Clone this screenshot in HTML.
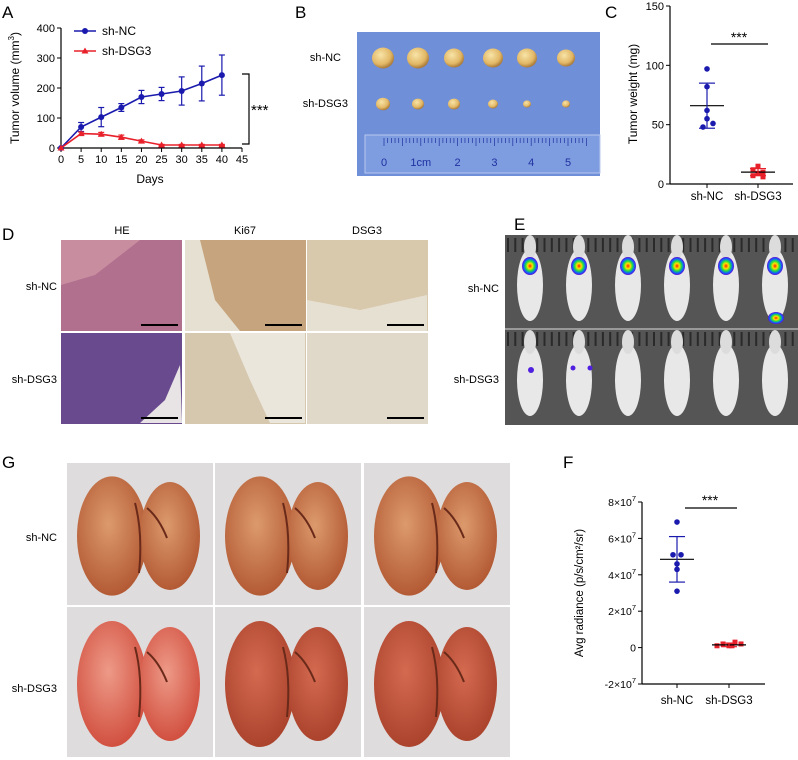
<!DOCTYPE html>
<html><head><meta charset="utf-8">
<style>
body{margin:0;background:#fff;}
svg{display:block;font-family:"Liberation Sans",Arial,sans-serif;}
</style></head>
<body>
<svg id="fig" width="798" height="760" viewBox="0 0 798 760">
<defs>
<radialGradient id="tum" cx="40%" cy="35%" r="65%"><stop offset="0" stop-color="#f7e4a8"/><stop offset="0.7" stop-color="#e2b765"/><stop offset="1" stop-color="#a97a3a"/></radialGradient>
<radialGradient id="lungA" cx="45%" cy="40%" r="65%"><stop offset="0" stop-color="#dc9a6c"/><stop offset="1" stop-color="#b05530"/></radialGradient>
<radialGradient id="lungB" cx="45%" cy="40%" r="65%"><stop offset="0" stop-color="#ee9a88"/><stop offset="1" stop-color="#cf4a3a"/></radialGradient>
<radialGradient id="lungC" cx="45%" cy="40%" r="65%"><stop offset="0" stop-color="#d46a50"/><stop offset="1" stop-color="#a8402a"/></radialGradient>
<radialGradient id="sig" cx="50%" cy="50%" r="50%"><stop offset="0" stop-color="#ff2000"/><stop offset="0.3" stop-color="#ffe000"/><stop offset="0.55" stop-color="#20e040"/><stop offset="0.8" stop-color="#1060ff"/><stop offset="1" stop-color="#6010d0"/></radialGradient>
</defs>

<text x="2" y="18" font-size="17">A</text>
<text x="295" y="18" font-size="17">B</text>
<text x="605" y="18" font-size="17">C</text>
<text x="2" y="240" font-size="17">D</text>
<text x="514" y="230" font-size="17">E</text>
<text x="2" y="468" font-size="17">G</text>
<text x="563" y="468" font-size="17">F</text>

<g id="chartA"></g>
<g id="panelB"></g>
<g id="chartC"></g>
<g id="panelD"></g>
<g id="panelE"></g>
<g id="panelG"></g>
<g id="chartF"></g>
</svg>
<script>
// ---- Chart A data ----
const daysA = [0,5,10,15,20,25,30,35,40];
const ncMean = [0,70,103,135,170,180,190,215,243];
const ncErr = [0,15,32,13,22,22,47,58,67];
const dsgMean = [0,48,46,36,23,10,10,10,10];
const dsgErr = [0,5,6,7,4,2,2,2,2];
const xTicksA = [0,5,10,15,20,25,30,35,40,45];
const yTicksA = [0,100,200,300,400];
// ---- Chart C data ----
const groupsC = ["sh-NC","sh-DSG3"];
const ncWeights = [97,82,62,55,51,48];
const dsgWeights = [15,12,10,9,7,6];
const cMeanSd = [[66,19],[10,3]];
const yTicksC = [0,50,100,150];
// ---- Chart F data ----
const groupsF = ["sh-NC","sh-DSG3"];
const ncRad = [6.9e7,5.1e7,5.1e7,4.6e7,4.3e7,3.1e7];
const dsgRad = [0.1e7,0.2e7,0.1e7,0.3e7,0.2e7,0.1e7];
const fMeanSd = [[4.85e7,1.25e7],[0.15e7,0.1e7]];
const yTicksF = [-2e7,0,2e7,4e7,6e7,8e7];

const NS="http://www.w3.org/2000/svg";
function mk(parent,tag,attrs,text){const e=document.createElementNS(NS,tag);for(const k in attrs)e.setAttribute(k,attrs[k]);if(text!==undefined)e.textContent=text;parent.appendChild(e);return e;}

// ===== Chart A =====
(function(){
const g=document.getElementById('chartA');
const x0=61,x1=242,y0=148,y1=28;
const xs=d=>x0+(d/45)*(x1-x0), ys=v=>y0-(v/400)*(y0-y1);
let a=mk(g,'line',{x1:x0,y1:y0,x2:x1,y2:y0,stroke:'#000','stroke-width':1.2});

a=mk(g,'line',{x1:x0,y1:y0,x2:x0,y2:y1,stroke:'#000','stroke-width':1.2});

xTicksA.forEach(t=>{mk(g,'line',{x1:xs(t),y1:y0,x2:xs(t),y2:y0+4,stroke:'#000'});
 const tx=mk(g,'text',{x:xs(t),y:y0+15,'font-size':11,'text-anchor':'middle'},t);
 });
yTicksA.forEach(t=>{mk(g,'line',{x1:x0-4,y1:ys(t),x2:x0,y2:ys(t),stroke:'#000'});
 const tx=mk(g,'text',{x:x0-6,y:ys(t)+4,'font-size':11,'text-anchor':'end'},t);
 });
let t=mk(g,'text',{x:150,y:183,'font-size':12,'text-anchor':'middle'},'Days');

t=mk(g,'text',{x:0,y:0,'font-size':12,'text-anchor':'middle',transform:'translate(19,88) rotate(-90)'});
t.innerHTML='Tumor volume (mm<tspan font-size="8" dy="-5">3</tspan><tspan dy="5">)</tspan>';

function series(mean,err,col,shape,name){
 const pts=daysA.map((d,i)=>xs(d)+','+ys(mean[i])).join(' ');
 const l=mk(g,'polyline',{points:pts,fill:'none',stroke:col,'stroke-width':1.6});
 
 daysA.forEach((d,i)=>{const cx=xs(d),cy=ys(mean[i]);
  if(err[i]>0){mk(g,'line',{x1:cx,y1:ys(mean[i]+err[i]),x2:cx,y2:ys(mean[i]-err[i]),stroke:col,'stroke-width':1.2});
   mk(g,'line',{x1:cx-3,y1:ys(mean[i]+err[i]),x2:cx+3,y2:ys(mean[i]+err[i]),stroke:col,'stroke-width':1.2});
   mk(g,'line',{x1:cx-3,y1:ys(mean[i]-err[i]),x2:cx+3,y2:ys(mean[i]-err[i]),stroke:col,'stroke-width':1.2});}
  let p;
  if(shape==='c')p=mk(g,'circle',{cx:cx,cy:cy,r:3,fill:col});
  else p=mk(g,'polygon',{points:`${cx},${cy-3.5} ${cx-3.5},${cy+2.5} ${cx+3.5},${cy+2.5}`,fill:col});
  });
}
series(ncMean,ncErr,'#1a1aae','c','sh-nc');
series(dsgMean,dsgErr,'#e8202a','t','sh-dsg3');
mk(g,'line',{x1:74,y1:31,x2:96,y2:31,stroke:'#1a1aae','stroke-width':1.6});mk(g,'circle',{cx:85,cy:31,r:3,fill:'#1a1aae'});
t=mk(g,'text',{x:102,y:35,'font-size':12},'sh-NC');
mk(g,'line',{x1:74,y1:51,x2:96,y2:51,stroke:'#e8202a','stroke-width':1.6});mk(g,'polygon',{points:'85,47.5 81.5,53.5 88.5,53.5',fill:'#e8202a'});
t=mk(g,'text',{x:102,y:55,'font-size':12},'sh-DSG3');
mk(g,'polyline',{points:'242,74 249,74 249,144 242,144',fill:'none',stroke:'#000','stroke-width':1.2});
t=mk(g,'text',{x:251,y:115,'font-size':15},'***');
})();

// ===== Panel B photo =====
(function(){
const g=document.getElementById('panelB');
let t=mk(g,'text',{x:341,y:61,'font-size':11,'text-anchor':'end'},'sh-NC');
t=mk(g,'text',{x:348,y:107,'font-size':11,'text-anchor':'end'},'sh-DSG3');
mk(g,'rect',{x:357,y:32,width:243,height:144,fill:'#6f8fd8'});
mk(g,'rect',{x:365,y:135,width:235,height:38,fill:'#7e9de0',stroke:'#b8c8ee','stroke-width':1});
const xsB=[383,418,454,493,527,566], big=[11,11,10,10,10,9], small=[7,6,6,5,4,4];
xsB.forEach((x,i)=>{mk(g,'ellipse',{cx:x,cy:58,rx:big[i],ry:big[i]*0.95,fill:'url(#tum)'});mk(g,'ellipse',{cx:x,cy:104,rx:small[i],ry:small[i]*0.9,fill:'url(#tum)'});});
for(let i=0;i<=55;i++){const x=384+i*3.68;mk(g,'line',{x1:x,y1:138,x2:x,y2:i%5?143:146,stroke:'#2030a0','stroke-width':0.7});}
['0','1cm','2','3','4','5'].forEach((s,i)=>{const tx=mk(g,'text',{x:384+i*36.8,y:166,'font-size':11,fill:'#2030a0','text-anchor':'middle'},s);});
})();

// ===== Chart C =====
(function(){
const g=document.getElementById('chartC');
const ax=670,xr=793,y0=184,y1=6;
const ys=v=>y0-(v/150)*(y0-y1), gx=[707,758];
let a=mk(g,'line',{x1:ax,y1:y0,x2:xr,y2:y0,stroke:'#000','stroke-width':1.2});
a=mk(g,'line',{x1:ax,y1:y0,x2:ax,y2:y1,stroke:'#000','stroke-width':1.2});
yTicksC.forEach(t=>{mk(g,'line',{x1:ax-4,y1:ys(t),x2:ax,y2:ys(t),stroke:'#000'});const tx=mk(g,'text',{x:ax-6,y:ys(t)+4,'font-size':11,'text-anchor':'end'},t);});
groupsC.forEach((s,i)=>{mk(g,'line',{x1:gx[i],y1:y0,x2:gx[i],y2:y0+4,stroke:'#000'});const tx=mk(g,'text',{x:gx[i],y:y0+16,'font-size':11.5,'text-anchor':'middle'},s);});
let t=mk(g,'text',{x:0,y:0,'font-size':12,'text-anchor':'middle',transform:'translate(637,94) rotate(-90)'},'Tumor weight (mg)');
const offs=[0,0,0,0,6,-4];
ncWeights.forEach((v,i)=>{const p=mk(g,'circle',{cx:gx[0]+offs[i],cy:ys(v),r:2.8,fill:'#1a1aae'});});
const offs2=[0,-5,5,0,-5,5];
dsgWeights.forEach((v,i)=>{const p=mk(g,'rect',{x:gx[1]+offs2[i]-2.5,y:ys(v)-2.5,width:5,height:5,fill:'#e8202a'});});
const cols=['#1a1aae','#e8202a'];
cMeanSd.forEach((m,i)=>{const x=gx[i];
 mk(g,'line',{x1:x-17,y1:ys(m[0]),x2:x+17,y2:ys(m[0]),stroke:'#000','stroke-width':1.2});
 mk(g,'line',{x1:x,y1:ys(m[0]+m[1]),x2:x,y2:ys(m[0]-m[1]),stroke:cols[i],'stroke-width':1.2});
 mk(g,'line',{x1:x-8,y1:ys(m[0]+m[1]),x2:x+8,y2:ys(m[0]+m[1]),stroke:cols[i],'stroke-width':1.2});
 mk(g,'line',{x1:x-8,y1:ys(m[0]-m[1]),x2:x+8,y2:ys(m[0]-m[1]),stroke:cols[i],'stroke-width':1.2});});
mk(g,'line',{x1:711,y1:44,x2:768,y2:44,stroke:'#000','stroke-width':1.2});
t=mk(g,'text',{x:739,y:42,'font-size':14,'text-anchor':'middle'},'***');
})();

// ===== Panel D histology =====
(function(){
const g=document.getElementById('panelD');
[['HE',122],['Ki67',245],['DSG3',367]].forEach(c=>{const t=mk(g,'text',{x:c[1],y:234,'font-size':11,'text-anchor':'middle'},c[0]);});
let t=mk(g,'text',{x:57,y:290,'font-size':11,'text-anchor':'end'},'sh-NC');
t=mk(g,'text',{x:57,y:383,'font-size':11,'text-anchor':'end'},'sh-DSG3');
const xs=[61,185,307], ys=[240,333];
const fills=[['#b0708e','#c6a57e','#d8c8ac'],['#6a4a8e','#d6c8ae','#e0d8c8']];
ys.forEach((y,r)=>xs.forEach((x,c)=>{mk(g,'rect',{x:x,y:y,width:121,height:91,fill:fills[r][c]});}));
mk(g,'polygon',{points:'61,240 140,240 95,275 61,285',fill:'#d49aa8',opacity:0.7});
mk(g,'polygon',{points:'185,240 200,240 215,300 240,331 185,331',fill:'#e6e0d2'});
mk(g,'polygon',{points:'307,300 360,310 427,295 427,331 307,331',fill:'#e6e0d2'});
mk(g,'polygon',{points:'180,365 165,400 140,423 182,423',fill:'#e8e4e6'});
mk(g,'polygon',{points:'230,333 305,333 305,423 270,423 250,380',fill:'#ebe6dc'});
ys.forEach(y=>xs.forEach(x=>{const s=mk(g,'rect',{x:x+80,y:y+84,width:37,height:2,fill:'#000'});}));
})();

// ===== Panel E mice =====
(function(){
const g=document.getElementById('panelE');
let t=mk(g,'text',{x:499,y:292,'font-size':11,'text-anchor':'end'},'sh-NC');
t=mk(g,'text',{x:499,y:383,'font-size':11,'text-anchor':'end'},'sh-DSG3');
mk(g,'rect',{x:505,y:235,width:293,height:190,fill:'#555'});
for(let i=0;i<40;i++){mk(g,'rect',{x:507+i*7.3,y:238,width:2,height:14,fill:'#2a2a2a'});mk(g,'rect',{x:507+i*7.3,y:332,width:2,height:14,fill:'#2a2a2a'});}
mk(g,'line',{x1:505,y1:329,x2:798,y2:329,stroke:'#ddd','stroke-width':1});
for(let i=0;i<6;i++){const cx=530+i*49;
 [283,378].forEach((cy)=>{mk(g,'ellipse',{cx:cx,cy:cy+2,rx:13,ry:36,fill:'#e8e8e8'});mk(g,'ellipse',{cx:cx,cy:cy-36,rx:6,ry:12,fill:'#dcdcdc'});});
 mk(g,'ellipse',{cx:cx,cy:266,rx:8,ry:9,fill:'url(#sig)'});
}
mk(g,'ellipse',{cx:776,cy:318,rx:8,ry:6,fill:'url(#sig)'});
mk(g,'circle',{cx:531,cy:370,r:3,fill:'#5020e0'});mk(g,'circle',{cx:573,cy:368,r:2.5,fill:'#5020e0'});mk(g,'circle',{cx:590,cy:368,r:2.5,fill:'#5020e0'});
})();

// ===== Panel G lungs =====
(function(){
const g=document.getElementById('panelG');
let t=mk(g,'text',{x:57,y:541,'font-size':11,'text-anchor':'end'},'sh-NC');
t=mk(g,'text',{x:57,y:692,'font-size':11,'text-anchor':'end'},'sh-DSG3');
const xs=[67,215,364], ys=[463,607], fl=[['url(#lungA)','url(#lungA)','url(#lungA)'],['url(#lungB)','url(#lungC)','url(#lungC)']];
ys.forEach((y,r)=>xs.forEach((x,c)=>{const h=r?150:142;
 mk(g,'rect',{x:x,y:y,width:146,height:h,fill:'#dedcdc'});
 mk(g,'ellipse',{cx:x+45,cy:y+h/2+2,rx:35,ry:h*0.42,fill:fl[r][c]});
 mk(g,'ellipse',{cx:x+103,cy:y+h/2+2,rx:30,ry:h*0.38,fill:fl[r][c]});
 mk(g,'path',{d:`M${x+68} ${y+40} q8 30 4 70 M${x+80} ${y+45} q12 10 20 30`,stroke:'#6a2a1a','stroke-width':2,fill:'none'});
}));
})();

// ===== Chart F =====
(function(){
const g=document.getElementById('chartF');
const ax=642,xr=765,yTop=502,yBot=684;
const ys=v=>yBot-((v+2e7)/10e7)*(yBot-yTop), gx=[677,729];
let a=mk(g,'line',{x1:ax,y1:yBot,x2:xr,y2:yBot,stroke:'#000','stroke-width':1.2});
a=mk(g,'line',{x1:ax,y1:yBot,x2:ax,y2:yTop,stroke:'#000','stroke-width':1.2});
yTicksF.forEach(v=>{mk(g,'line',{x1:ax-4,y1:ys(v),x2:ax,y2:ys(v),stroke:'#000'});
 const tx=mk(g,'text',{x:ax-6,y:ys(v)+4,'font-size':10.5,'text-anchor':'end'});
 if(v===0)tx.textContent='0';else tx.innerHTML=(v/1e7)+'×10<tspan font-size="7.5" dy="-5">7</tspan>';
 });
groupsF.forEach((s,i)=>{mk(g,'line',{x1:gx[i],y1:yBot,x2:gx[i],y2:yBot+4,stroke:'#000'});const tx=mk(g,'text',{x:gx[i],y:yBot+20,'font-size':11.5,'text-anchor':'middle'},s);});
let t=mk(g,'text',{x:0,y:0,'font-size':11.5,'text-anchor':'middle',transform:'translate(583,593) rotate(-90)'});
t.innerHTML='Avg radiance (p/s/cm²/sr)';
const offs=[0,-4,4,0,0,0];
ncRad.forEach((v,i)=>{const p=mk(g,'circle',{cx:gx[0]+offs[i],cy:ys(v),r:2.8,fill:'#1a1aae'});});
const offs2=[-12,-6,0,6,12,3];
dsgRad.forEach((v,i)=>{const p=mk(g,'rect',{x:gx[1]+offs2[i]-2.5,y:ys(v)-2.5,width:5,height:5,fill:'#e8202a'});});
const cols=['#1a1aae','#e8202a'];
fMeanSd.forEach((m,i)=>{const x=gx[i];
 mk(g,'line',{x1:x-17,y1:ys(m[0]),x2:x+17,y2:ys(m[0]),stroke:'#000','stroke-width':1.2});
 mk(g,'line',{x1:x,y1:ys(m[0]+m[1]),x2:x,y2:ys(m[0]-m[1]),stroke:cols[i],'stroke-width':1.2});
 mk(g,'line',{x1:x-8,y1:ys(m[0]+m[1]),x2:x+8,y2:ys(m[0]+m[1]),stroke:cols[i],'stroke-width':1.2});
 mk(g,'line',{x1:x-8,y1:ys(m[0]-m[1]),x2:x+8,y2:ys(m[0]-m[1]),stroke:cols[i],'stroke-width':1.2});});
mk(g,'line',{x1:685,y1:508,x2:737,y2:508,stroke:'#000','stroke-width':1.2});
t=mk(g,'text',{x:710,y:505,'font-size':14,'text-anchor':'middle'},'***');
})();
</script>
</body></html>
